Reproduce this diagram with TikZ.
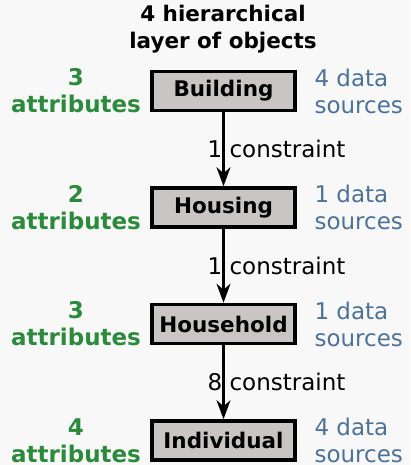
\documentclass[tikz,border=0pt]{standalone}
\usepackage{fontspec}
\setmainfont{DejaVu Sans}
\usetikzlibrary{arrows.meta}
\definecolor{bg}{HTML}{F8F8F8}
\definecolor{boxfill}{HTML}{C9C5C5}
\definecolor{attrgreen}{HTML}{2B8A3B}
\definecolor{srcblue}{HTML}{4D7299}
\tikzset{
  layerbox/.style={draw=black, line width=3.6pt, fill=boxfill, minimum width=143pt, minimum height=39pt, inner sep=0pt, font=\fontsize{21.5}{26}\selectfont\bfseries},
  attr/.style={text=attrgreen, align=center, font=\fontsize{23}{27}\selectfont\bfseries},
  src/.style={text=srcblue, align=left, anchor=west, font=\fontsize{23}{27}\selectfont},
  link/.style={line width=2.2pt, -{Stealth[length=19pt,width=14pt,inset=6pt]}},
  clabel/.style={font=\fontsize{23}{26}\selectfont, inner sep=0pt}
}
\begin{document}
\begin{tikzpicture}[x=1pt,y=1pt]
\fill[bg] (0,0) rectangle (410,-465);
\useasboundingbox (0,0) rectangle (410,-465);
\node[align=center, font=\fontsize{21.5}{27}\selectfont\bfseries] (title) at (223,-29.5) {4 hierarchical\\layer of objects};
\node[layerbox] (building) at (223.5,-91) {Building};
\node[layerbox] (housing) at (223.5,-207.5) {Housing};
\node[layerbox] (household) at (223.5,-324) {Household};
\node[layerbox] (individual) at (223.5,-440.5) {Individual};
\node[attr] (a1) at (76,-91) {3\\attributes};
\node[attr] (a2) at (76,-207.5) {2\\attributes};
\node[attr] (a3) at (76,-324) {3\\attributes};
\node[attr] (a4) at (76,-440.5) {4\\attributes};
\node[src] (s1) at (311,-91) {4 data\\sources};
\node[src] (s2) at (311,-207.5) {1 data\\sources};
\node[src] (s3) at (311,-324) {1 data\\sources};
\node[src] (s4) at (311,-440.5) {4 data\\sources};
\draw[link] (building.south) -- (housing.north) node[clabel, midway, xshift=53pt] {1 constraint};
\draw[link] (housing.south) -- (household.north) node[clabel, midway, xshift=53pt] {1 constraint};
\draw[link] (household.south) -- (individual.north) node[clabel, midway, xshift=53pt] {8 constraint};
\end{tikzpicture}
\end{document}
